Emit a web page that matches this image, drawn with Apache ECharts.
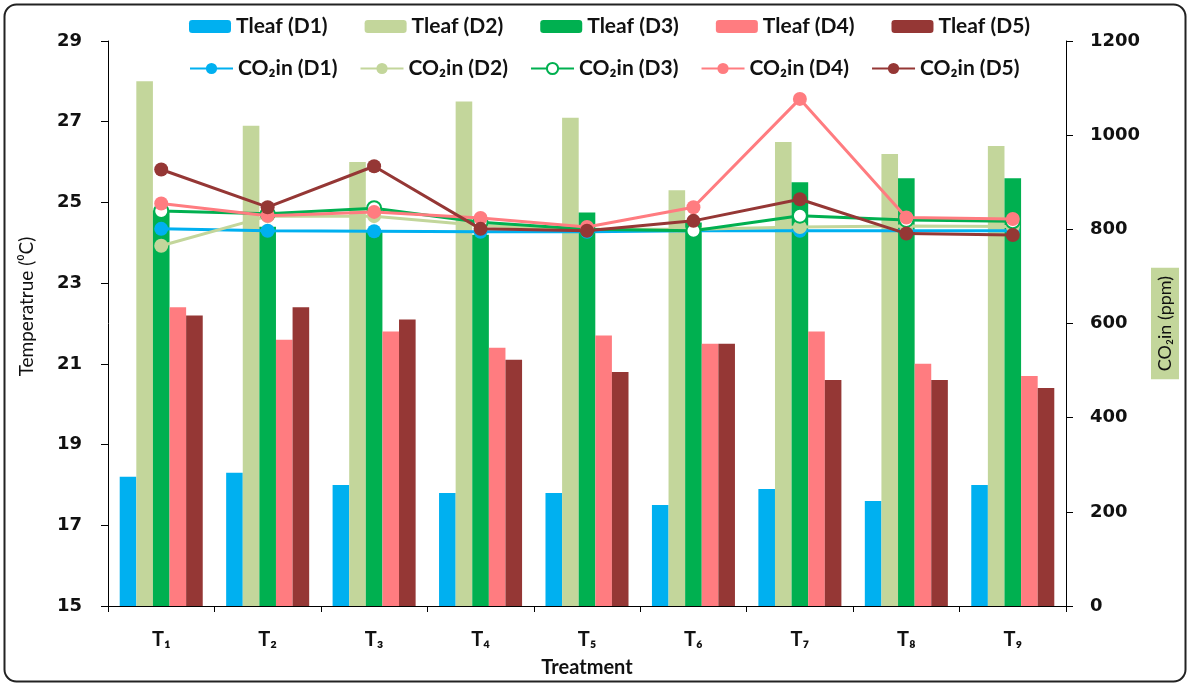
<!DOCTYPE html>
<html>
<head>
<meta charset="utf-8">
<script src="https://cdn.jsdelivr.net/npm/echarts@6/dist/echarts.min.js"></script>
<style>html,body{margin:0;padding:0;background:#fff}#c{width:1187px;height:683px}</style>
</head>
<body>
<div id="c"></div>
<script>
const categories = ['T\u2081','T\u2082','T\u2083','T\u2084','T\u2085','T\u2086','T\u2087','T\u2088','T\u2089'];
const tleafD1 = [18.2, 18.3, 18.0, 17.8, 17.8, 17.5, 17.9, 17.6, 18.0];
const tleafD2 = [28.0, 26.9, 26.0, 27.5, 27.1, 25.3, 26.5, 26.2, 26.4];
const tleafD3 = [24.8, 24.4, 24.3, 24.2, 24.75, 24.5, 25.5, 25.6, 25.6];
const tleafD4 = [22.4, 21.6, 21.8, 21.4, 21.7, 21.5, 21.8, 21.0, 20.7];
const tleafD5 = [22.2, 22.4, 22.1, 21.1, 20.8, 21.5, 20.6, 20.6, 20.4];
const co2D1 = [801, 797, 796, 795, 795, 797, 797, 797, 797];
const co2D2 = [765, 828, 828, 808, 800, 800, 805, 807, 806];
const co2D3 = [839, 833, 845, 815, 800, 797, 829, 820, 817];
const co2D4 = [855, 829, 837, 824, 805, 847, 1077, 825, 822];
const co2D5 = [927, 847, 934, 801, 797, 818, 864, 791, 788];
const tempTicks = [15, 17, 19, 21, 23, 25, 27, 29];
const co2Ticks = [0, 200, 400, 600, 800, 1000, 1200];

const colors = ['#00b0f0', '#c3d69b', '#00b050', '#ff7c80', '#953735'];
const font = 'Lato, "Open Sans", "DejaVu Sans", sans-serif';
const tickFont = '"DejaVu Sans", Verdana, sans-serif';

const tleaf = [tleafD1, tleafD2, tleafD3, tleafD4, tleafD5];
const co2 = [co2D1, co2D2, co2D3, co2D4, co2D5];
const barNames = ['Tleaf (D1)','Tleaf (D2)','Tleaf (D3)','Tleaf (D4)','Tleaf (D5)'];
const lineNames = ['CO\u2082in (D1)','CO\u2082in (D2)','CO\u2082in (D3)','CO\u2082in (D4)','CO\u2082in (D5)'];

const series = [];
tleaf.forEach((d, i) => {
  series.push({
    name: barNames[i], type: 'bar', yAxisIndex: 0, data: d,
    barGap: '0%', barCategoryGap: '22%',
    itemStyle: { color: colors[i] }, z: 2
  });
});
co2.forEach((d, i) => {
  series.push({
    name: lineNames[i], type: 'line', yAxisIndex: 1, data: d,
    symbol: 'circle', symbolSize: 14,
    lineStyle: { color: colors[i], width: 3 },
    itemStyle: i === 2 ? { color: '#ffffff', borderColor: colors[i], borderWidth: 2 } : { color: colors[i] },
    z: 5 + i
  });
});

const chart = echarts.init(document.getElementById('c'));
chart.setOption({
  animation: false,
  backgroundColor: '#fff',
  graphic: [{
    type: 'rect', left: 2, top: 2, z: 100, silent: true,
    shape: { width: 1181, height: 677, r: 12 },
    style: { fill: 'none', stroke: '#222', lineWidth: 2 }
  }],
  grid: { left: 108, right: 116, top: 41, bottom: 74 },
  legend: [{
    data: barNames, top: 11, left: 184, itemWidth: 42, itemHeight: 13, itemGap: 37,
    textStyle: { fontSize: 21, fontWeight: 'bold', fontFamily: font, color: '#111' }
  }, {
    data: lineNames, top: 53, left: 184, itemWidth: 43, itemHeight: 14, itemGap: 22,
    textStyle: { fontSize: 21, fontWeight: 'bold', fontFamily: font, color: '#111' }
  }],
  xAxis: {
    type: 'category', data: categories,
    name: 'Treatment', nameLocation: 'middle', nameGap: 52,
    nameTextStyle: { fontSize: 20, fontWeight: 'bold', fontFamily: font, color: '#111' },
    axisLine: { lineStyle: { color: '#000', width: 1 } },
    axisTick: { show: true, length: 6, lineStyle: { color: '#000' } },
    axisLabel: { fontSize: 20, fontWeight: 'bold', fontFamily: font, color: '#111', margin: 24 }
  },
  yAxis: [{
    type: 'value', min: tempTicks[0], max: tempTicks[tempTicks.length - 1], interval: 2,
    name: 'Temperatrue (\u2070C)', nameLocation: 'middle', nameGap: 72, nameRotate: 90,
    nameTextStyle: { fontSize: 19, fontFamily: font, color: '#111', padding: [0, 0, 0, 34] },
    axisLine: { show: true, lineStyle: { color: '#000', width: 1 } },
    axisTick: { show: true, length: 7, lineStyle: { color: '#000' } },
    splitLine: { show: false },
    axisLabel: { fontSize: 18, fontWeight: 'bold', fontFamily: tickFont, color: '#111', margin: 26 }
  }, {
    type: 'value', min: co2Ticks[0], max: co2Ticks[co2Ticks.length - 1], interval: 200,
    position: 'right',
    name: 'CO\u2082in (ppm)', nameLocation: 'middle', nameGap: 74, nameRotate: 90,
    nameTextStyle: { fontSize: 18, fontFamily: font, color: '#111', backgroundColor: '#c3d69b', padding: [5, 8, 5, 8] },
    axisLine: { show: true, lineStyle: { color: '#000', width: 1 } },
    axisTick: { show: true, length: 7, lineStyle: { color: '#000' } },
    splitLine: { show: false },
    axisLabel: { fontSize: 18, fontWeight: 'bold', fontFamily: tickFont, color: '#111', margin: 24, formatter: v => String(v) }
  }],
  series: series
});
</script>
</body>
</html>
